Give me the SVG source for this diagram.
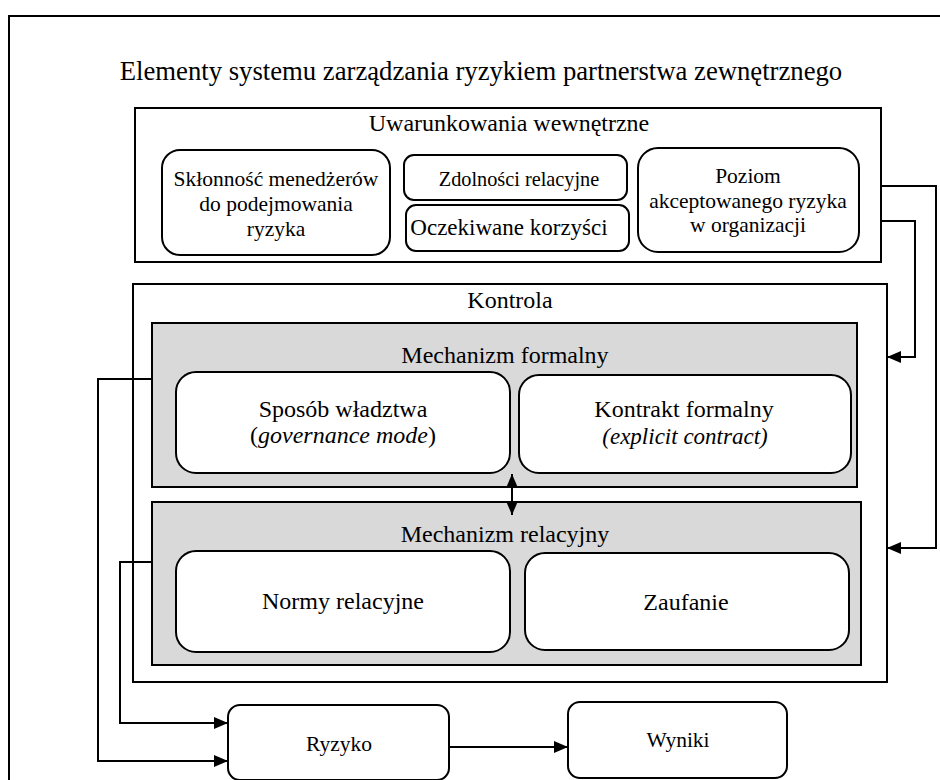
<svg xmlns="http://www.w3.org/2000/svg" width="940" height="780" viewBox="0 0 940 780">
<style>
text{font-family:"Liberation Serif","Times New Roman",serif;fill:#000;text-anchor:middle}
.t{font-size:24px}
.s{font-size:21.5px}
.title{font-size:26.7px}
.box{fill:#fff;stroke:#000;stroke-width:2}
.gray{fill:#d9d9d9;stroke:#000;stroke-width:2}
.rnd{fill:#fff;stroke:#000;stroke-width:2}
.c{fill:none;stroke:#000;stroke-width:2}
</style>
<defs>
<marker id="arr" markerWidth="14" markerHeight="12" refX="14" refY="6" orient="auto-start-reverse" markerUnits="userSpaceOnUse">
<path d="M0,0 L14,6 L0,12 Z" fill="#000"/>
</marker>
</defs>
<rect width="940" height="780" fill="#fff"/>
<g font-family="Liberation Serif, serif">
<g id="frame">
<rect x="9" y="16" width="940" height="780" fill="none" stroke="#000" stroke-width="2"/>
<text class="title" x="481" y="80">Elementy systemu zarządzania ryzykiem partnerstwa zewnętrznego</text>
</g>
<g id="uwarunkowania">
<rect class="box" x="135" y="108" width="746" height="154"/>
<text class="t" x="509" y="131">Uwarunkowania wewnętrzne</text>
</g>
<g id="sklonnosc">
<rect class="rnd" x="162" y="150" width="228" height="105" rx="18"/>
<text class="s" x="276" y="186">Skłonność menedżerów</text>
<text class="s" x="276" y="211">do podejmowania</text>
<text class="s" x="276" y="236">ryzyka</text>
</g>
<g id="zdolnosci">
<rect class="rnd" x="404" y="155" width="223" height="45" rx="10"/>
<text class="s" x="519" y="186" style="font-size:20.3px">Zdolności relacyjne</text>
</g>
<g id="korzysci">
<rect class="rnd" x="406" y="205" width="223" height="46" rx="10"/>
<text class="s" x="509" y="235" style="font-size:23px">Oczekiwane korzyści</text>
</g>
<g id="poziom">
<rect class="rnd" x="638" y="148" width="221" height="104" rx="20"/>
<text class="s" x="748" y="183">Poziom</text>
<text class="s" x="748" y="208">akceptowanego ryzyka</text>
<text class="s" x="748" y="232">w organizacji</text>
</g>
<g id="kontrola">
<rect class="box" x="133" y="284" width="754" height="398"/>
<text class="t" x="510" y="308">Kontrola</text>
</g>
<g id="formalny">
<rect class="gray" x="152" y="323" width="705" height="164"/>
<text class="t" x="505" y="363">Mechanizm formalny</text>
</g>
<g id="wladztwo">
<rect class="rnd" x="176" y="372" width="334" height="101" rx="20"/>
<text class="t" x="343" y="417">Sposób władztwa</text>
<text class="t" x="343" y="443">(<tspan font-style="italic">governance mode</tspan>)</text>
</g>
<g id="kontrakt">
<rect class="rnd" x="519" y="375" width="332" height="98" rx="20"/>
<text class="t" x="684" y="417">Kontrakt formalny</text>
<text class="t" x="685" y="444" font-style="italic" style="font-size:23px">(explicit contract)</text>
</g>
<g id="relacyjny">
<rect class="gray" x="152" y="502" width="709" height="163"/>
<text class="t" x="505" y="542">Mechanizm relacyjny</text>
</g>
<g id="normy">
<rect class="rnd" x="176" y="551" width="334" height="101" rx="20"/>
<text class="t" x="343" y="609">Normy relacyjne</text>
</g>
<g id="zaufanie">
<rect class="rnd" x="525" y="553" width="324" height="97" rx="20"/>
<text class="t" x="686" y="610">Zaufanie</text>
</g>
<g id="ryzyko">
<rect class="rnd" x="228" y="705" width="221" height="75" rx="12"/>
<text class="s" x="339" y="751">Ryzyko</text>
</g>
<g id="wyniki">
<rect class="rnd" x="568" y="702" width="219" height="76" rx="12"/>
<text class="s" x="678" y="747">Wyniki</text>
</g>
</g>
<g id="connectors">
<path class="c" d="M512,474 V515" marker-start="url(#arr)" marker-end="url(#arr)"/>
<path class="c" d="M152,379 H98 V761 H228" marker-end="url(#arr)"/>
<path class="c" d="M152,562 H120 V723 H228" marker-end="url(#arr)"/>
<path class="c" d="M449,747 H568" marker-end="url(#arr)"/>
<path class="c" d="M881,186 H936 V548 H887" marker-end="url(#arr)"/>
<path class="c" d="M881,221 H915 V357 H887" marker-end="url(#arr)"/>
</g>
</svg>
